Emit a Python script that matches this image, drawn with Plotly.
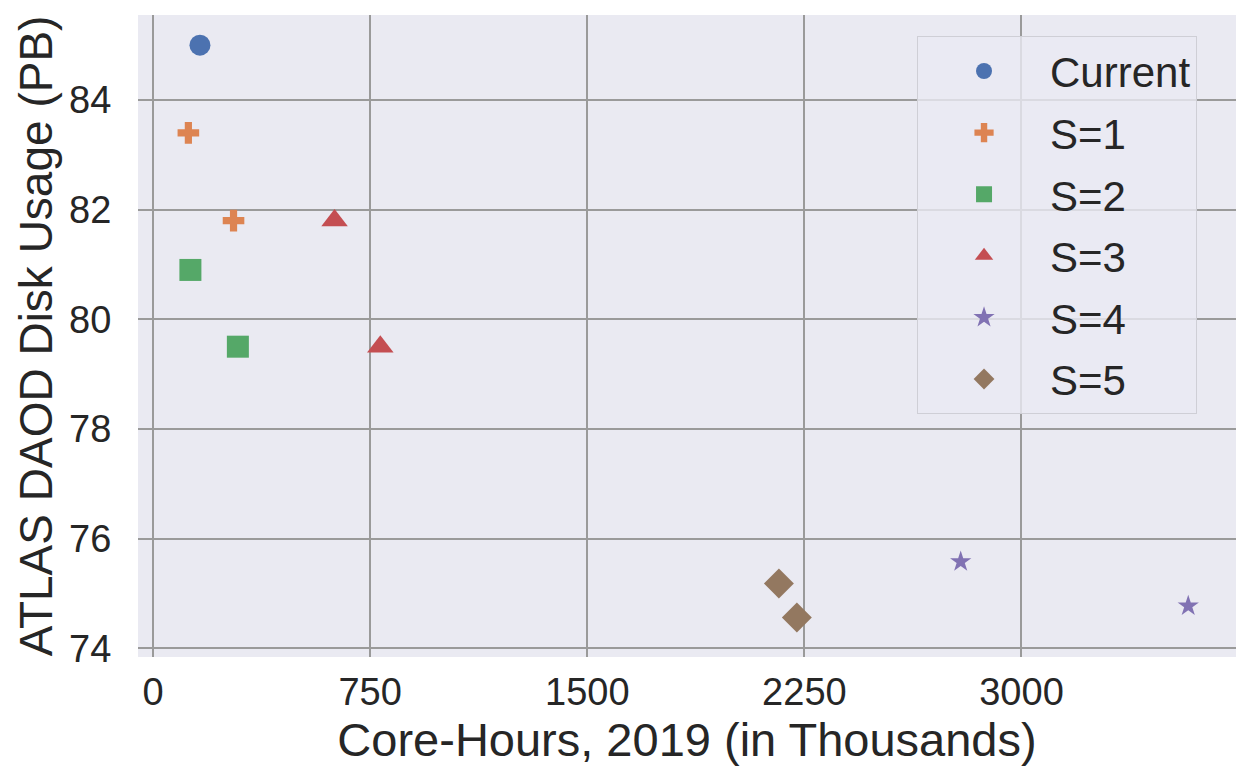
import plotly.graph_objects as go

# Core-hours (thousands) and DAOD disk usage (PB) per strategy
series_names = ["Current", "S=1", "S=2", "S=3", "S=4", "S=5"]
core_hours = [
    [162],
    [122, 278],
    [129, 293],
    [627, 785],
    [2790, 3576],
    [2162, 2224],
]
disk_usage = [
    [85.0],
    [83.4, 81.8],
    [80.9, 79.5],
    [81.8, 79.5],
    [75.58, 74.77],
    [75.18, 74.56],
]

x_ticks = [0, 750, 1500, 2250, 3000]
y_ticks = [74, 76, 78, 80, 82, 84]

colors = ["#4C72B0", "#DD8452", "#55A868", "#C44E52", "#8172B3", "#937860"]
symbols = ["circle", "cross", "square", "triangle-up", "star", "diamond"]
sizes = [21, 18, 22, 23, 16, 23]

FONT = "Liberation Sans, Arial, sans-serif"
TEXT = "#262626"
GRID = "#9a9a9a"

fig = go.Figure()
for name, xs, ys, c, sym, sz in zip(series_names, core_hours, disk_usage, colors, symbols, sizes):
    fig.add_trace(go.Scatter(
        x=xs, y=ys, mode="markers", name=name, legendgroup=name,
        marker=dict(color=c, symbol=sym, size=sz, line=dict(width=0)),
    ))

fig.update_layout(
    width=1239, height=770,
    margin=dict(l=138, r=3, t=15, b=113),
    paper_bgcolor="white",
    plot_bgcolor="#EAEAF2",
    font=dict(family=FONT, color=TEXT, size=38),
    showlegend=True,
    legend=dict(
        x=0.7095, y=0.967, xanchor="left", yanchor="top",
        bgcolor="rgba(234,234,242,0.8)",
        bordercolor="#cfcfd6", borderwidth=1,
        font=dict(family=FONT, size=42, color=TEXT),
        itemsizing="trace", itemwidth=122,
        tracegroupgap=4,
    ),
)

fig.update_xaxes(
    range=[-52, 3741],
    tickvals=x_ticks, ticktext=[str(v) for v in x_ticks],
    showgrid=True, gridcolor=GRID, gridwidth=1.6,
    zeroline=False, showline=False,
    ticks="outside", ticklen=1, tickcolor="rgba(0,0,0,0)",
    tickfont=dict(family=FONT, size=38, color=TEXT),
    title=dict(text="Core-Hours, 2019 (in Thousands)",
               font=dict(family=FONT, size=47, color=TEXT), standoff=2),
    automargin=False,
)
fig.update_yaxes(
    range=[73.84, 85.55],
    tickvals=y_ticks, ticktext=[str(v) for v in y_ticks],
    showgrid=True, gridcolor=GRID, gridwidth=1.6,
    zeroline=False, showline=False,
    ticks="outside", ticklen=18, tickcolor="rgba(0,0,0,0)",
    tickfont=dict(family=FONT, size=38, color=TEXT),
    title=dict(text="ATLAS DAOD Disk Usage (PB)",
               font=dict(family=FONT, size=46, color=TEXT), standoff=2),
    automargin=False,
)

fig.write_html("out.html")
